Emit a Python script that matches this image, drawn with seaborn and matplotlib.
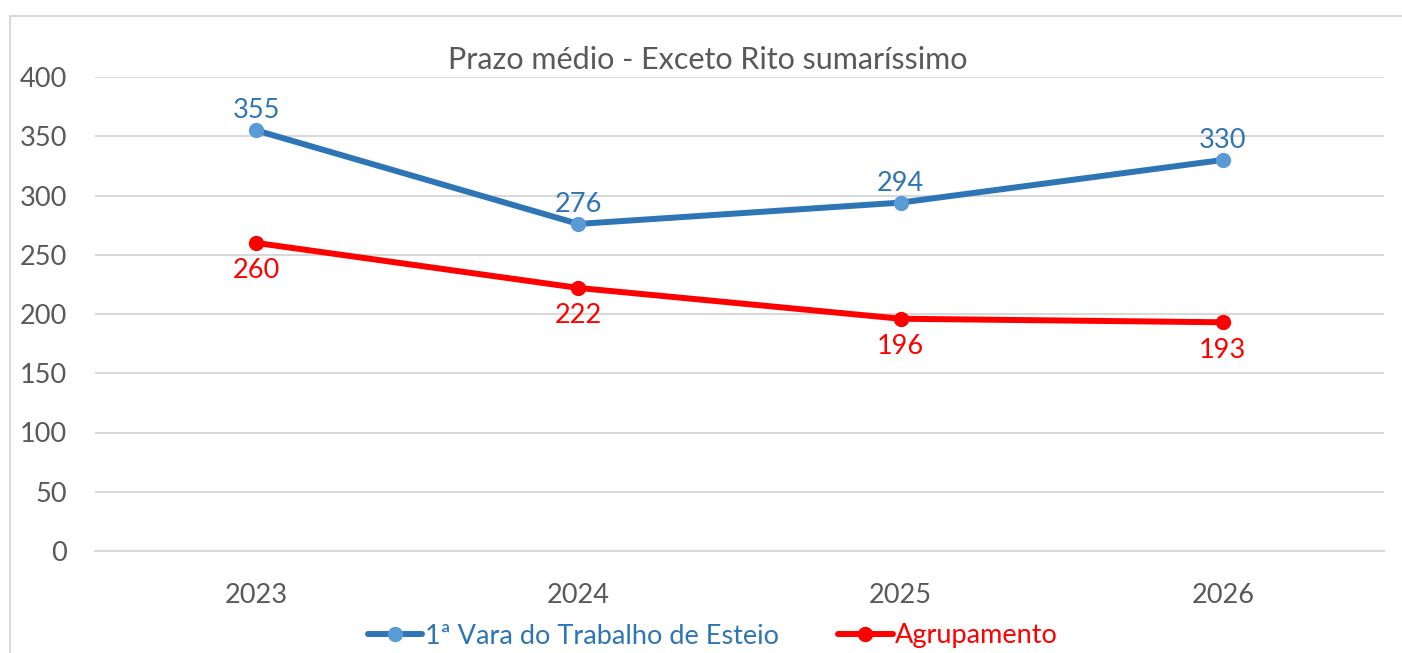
import matplotlib
matplotlib.use("Agg")
import matplotlib.pyplot as plt
import seaborn as sns
import pandas as pd
from matplotlib.patches import Rectangle
from matplotlib.lines import Line2D

years = ["2023", "2024", "2025", "2026"]
vara = [355, 276, 294, 330]
agrup = [260, 222, 196, 193]
series_names = ["1ª Vara do Trabalho de Esteio", "Agrupamento"]
title = "Prazo médio - Exceto Rito sumaríssimo"

sns.set_theme(style="white")
plt.rcParams['font.family'] = ['Lato', 'DejaVu Sans']

df = pd.DataFrame({
    "ano": years * 2,
    "valor": vara + agrup,
    "serie": [series_names[0]] * 4 + [series_names[1]] * 4,
})

line_colors = {series_names[0]: "#2E75B6", series_names[1]: "#FF0000"}
marker_colors = {series_names[0]: "#5B9BD5", series_names[1]: "#FF0000"}
label_colors = {series_names[0]: "#2E75B6", series_names[1]: "#FF0000"}
FS = 19.5

fig = plt.figure(figsize=(14.02, 6.53), dpi=100)
ax = fig.add_axes([95/1402, 1 - 551/653, 1289/1402, 474/653])

# chart border (cropped)
fig.patches.append(Rectangle((10/1402, -0.1), 1.2, 1 - 16/653 + 0.1,
                             transform=fig.transFigure, fill=False,
                             edgecolor="#D9D9D9", linewidth=1.5, zorder=0))

sns.lineplot(data=df, x="ano", y="valor", hue="serie", palette=line_colors,
             linewidth=4.3, ax=ax, legend=False, sort=False)
for name in series_names:
    sub = df[df.serie == name]
    ax.plot(sub["ano"], sub["valor"], linestyle="none", marker="o",
            markersize=10, color=marker_colors[name], zorder=5)

for i, v in enumerate(vara):
    ax.annotate(str(v), (i, v), xytext=(0, 5), textcoords="offset points",
                ha="center", va="bottom", fontsize=FS, color=label_colors[series_names[0]])
for i, v in enumerate(agrup):
    ax.annotate(str(v), (i, v), xytext=(0, -11), textcoords="offset points",
                ha="center", va="top", fontsize=FS, color=label_colors[series_names[1]])

ax.set_xlim(-0.5, 3.5)
ax.set_ylim(0, 400)
ax.set_yticks(range(0, 401, 50))
ax.yaxis.grid(True, color="#D9D9D9", linewidth=1.5)
ax.xaxis.grid(False)
ax.set_axisbelow(True)
for s in ax.spines.values():
    s.set_visible(False)
ax.spines["bottom"].set_visible(True)
ax.spines["bottom"].set_color("#D9D9D9")
ax.spines["bottom"].set_linewidth(1.5)
ax.tick_params(axis="both", length=0, labelsize=FS, labelcolor="#595959")
ax.tick_params(axis="y", pad=20)
ax.tick_params(axis="x", pad=23)
ax.set_xlabel("")
ax.set_ylabel("")

fig.text(708/1402, 1 - 60/653, title, ha="center", va="center",
         fontsize=22, color="#595959")

handles = [Line2D([0], [0], color=line_colors[n], linewidth=4.3, marker="o",
                  markersize=10, markerfacecolor=marker_colors[n],
                  markeredgecolor=marker_colors[n]) for n in series_names]
leg = fig.legend(handles, series_names, loc="center", bbox_to_anchor=(713/1402, 1 - 636/653),
                 ncol=2, frameon=False, fontsize=FS, handlelength=2.0,
                 columnspacing=2.2, handletextpad=0.1)
for t, n in zip(leg.get_texts(), series_names):
    t.set_color(label_colors[n])

fig.savefig("out.png", dpi=100)
